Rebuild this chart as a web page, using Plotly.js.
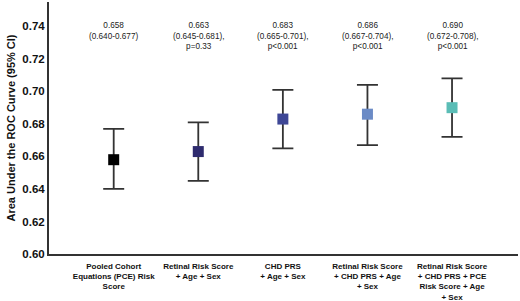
<!DOCTYPE html>
<html><head><meta charset="utf-8">
<script src="https://cdn.plot.ly/plotly-3.0.1.min.js"></script>
<style>html,body{margin:0;padding:0;background:#fff}#chart{width:520px;height:301px}</style>
</head><body><div id="chart"></div>
<script>
const categories = [
  "Pooled Cohort<br>Equations (PCE) Risk<br>Score",
  "Retinal Risk Score<br>+ Age + Sex",
  "CHD PRS<br>+ Age + Sex",
  "Retinal Risk Score<br>+ CHD PRS + Age<br>+ Sex",
  "Retinal Risk Score<br>+ CHD PRS + PCE<br>Risk Score + Age<br>+ Sex"
];
const auc = [0.658, 0.663, 0.683, 0.686, 0.690];
const ciLow = [0.640, 0.645, 0.665, 0.667, 0.672];
const ciHigh = [0.677, 0.681, 0.701, 0.704, 0.708];
const pValues = ["", "p=0.33", "p<0.001", "p<0.001", "p<0.001"];
const colors = ["#000000", "#2e2b6e", "#3e4796", "#6b8bc6", "#5bbdb6"];
const yTicks = [0.60, 0.62, 0.64, 0.66, 0.68, 0.70, 0.72, 0.74];

const xs = categories.map((c, i) => i);
const fmt = v => v.toFixed(3);

const trace = {
  type: "scatter", mode: "markers",
  x: xs, y: auc,
  marker: {symbol: "square", size: 11, color: colors, line: {width: 0}},
  error_y: {
    type: "data", symmetric: false,
    array: auc.map((v, i) => ciHigh[i] - v),
    arrayminus: auc.map((v, i) => v - ciLow[i]),
    color: "#333333", thickness: 1.8, width: 10.5
  },
  hoverinfo: "skip"
};

const annotations = auc.map((v, i) => {
  let t = fmt(v) + "<br>(" + fmt(ciLow[i]) + "-" + fmt(ciHigh[i]) + ")";
  if (pValues[i]) t += ",<br>" + pValues[i];
  return {
    x: i, y: 0.7448, xref: "x", yref: "y", yanchor: "top", xanchor: "center",
    text: t, showarrow: false, align: "center",
    font: {family: "Liberation Sans, Arial, sans-serif", size: 8.2, color: "#222"}
  };
});

const layout = {
  width: 520, height: 301,
  margin: {l: 49, r: 2, t: 2, b: 47, pad: 0},
  paper_bgcolor: "#fff", plot_bgcolor: "#fff",
  showlegend: false,
  font: {family: "Liberation Sans, Arial, sans-serif", color: "#111"},
  xaxis: {
    range: [-0.765, 4.78],
    tickvals: xs, ticktext: categories.map(c => "<b>" + c + "</b>"),
    tickfont: {size: 8, color: "#111"},
    ticklabelstandoff: 3,
    showgrid: false, zeroline: false, showline: true,
    linecolor: "#333", linewidth: 2, ticks: "", fixedrange: true
  },
  yaxis: {
    range: [0.60, 0.755],
    tickvals: yTicks, ticktext: yTicks.map(v => "<b>" + v.toFixed(2) + "</b>"),
    tickfont: {size: 11.5, color: "#111"},
    showgrid: false, zeroline: false, showline: true,
    linecolor: "#333", linewidth: 2, ticks: "",
    title: {text: "<b>Area Under the ROC Curve (95% CI)</b>", font: {size: 11, color: "#111"}, standoff: 4}
  },
  annotations: annotations
};

Plotly.newPlot("chart", [trace], layout, {staticPlot: true, displayModeBar: false});
</script></body></html>
